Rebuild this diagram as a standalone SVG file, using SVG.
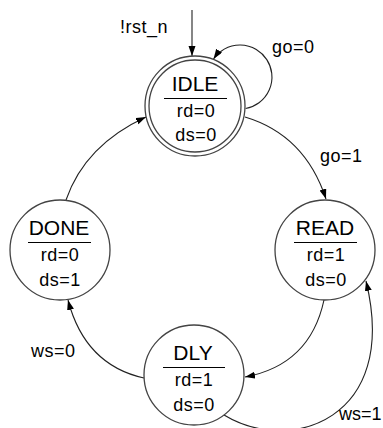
<svg xmlns="http://www.w3.org/2000/svg" width="383" height="428" viewBox="0 0 383 428">
<style>
.st{fill:#fff;stroke:#444;stroke-width:1.3}
.t{font-family:"Liberation Sans",Arial,sans-serif;fill:#000;text-anchor:middle}
.ti{font-size:21px}
.o{font-size:18px;letter-spacing:0.5px}
.lb{font-family:"Liberation Sans",Arial,sans-serif;fill:#000;font-size:18px;letter-spacing:0.5px}
.bar{stroke:#000;stroke-width:1.2}
.c{fill:none;stroke:#222;stroke-width:1.1;marker-end:url(#ah)}
</style>
<defs>
<marker id="ah" markerUnits="userSpaceOnUse" markerWidth="11" markerHeight="8" refX="10" refY="3.5" orient="auto">
<path d="M0,0 L10,3.5 L0,7 z" fill="#000"/>
</marker>
</defs>
<rect width="383" height="428" fill="#fff"/>
<g id="connectors">
<path class="c" d="M192 10 L192 56"/>
<path class="c" d="M245.6 108.5 A32 32 0 1 0 213.5 59"/>
<path class="c" d="M245 117 Q305 135 326 199"/>
<path class="c" d="M324 300 Q310 365 245 377"/>
<path class="c" d="M224 415 C290 455 400 420 366 281"/>
<path class="c" d="M144 378 Q85 365 68 300"/>
<path class="c" d="M66 200 Q85 145 146 117"/>
</g>
<g id="labels">
<text class="lb" x="120" y="33">!rst_n</text>
<text class="lb" x="272" y="53">go=0</text>
<text class="lb" x="320" y="162">go=1</text>
<text class="lb" x="31" y="357">ws=0</text>
<text class="lb" x="339" y="420" style="letter-spacing:0">ws=1</text>
</g>
<g id="IDLE">
<circle class="st" cx="195" cy="106" r="50"/>
<circle class="st" cx="195" cy="106" r="46"/>
<text class="t ti" x="195" y="91">IDLE</text>
<line class="bar" x1="164" y1="98.5" x2="227" y2="98.5"/>
<text class="t o" x="196" y="117">rd=0</text>
<text class="t o" x="196" y="141">ds=0</text>
</g>
<g id="READ">
<circle class="st" cx="325" cy="250" r="50"/>
<text class="t ti" x="325" y="235">READ</text>
<line class="bar" x1="294" y1="242.5" x2="357" y2="242.5"/>
<text class="t o" x="326" y="261">rd=1</text>
<text class="t o" x="326" y="286">ds=0</text>
</g>
<g id="DONE">
<circle class="st" cx="60" cy="250" r="50"/>
<text class="t ti" x="59" y="235">DONE</text>
<line class="bar" x1="28" y1="242.5" x2="91" y2="242.5"/>
<text class="t o" x="60" y="261">rd=0</text>
<text class="t o" x="60" y="286">ds=1</text>
</g>
<g id="DLY">
<circle class="st" cx="194" cy="375" r="50"/>
<text class="t ti" x="193" y="360">DLY</text>
<line class="bar" x1="163" y1="367.5" x2="225" y2="367.5"/>
<text class="t o" x="194" y="386">rd=1</text>
<text class="t o" x="194" y="411">ds=0</text>
</g>
</svg>
